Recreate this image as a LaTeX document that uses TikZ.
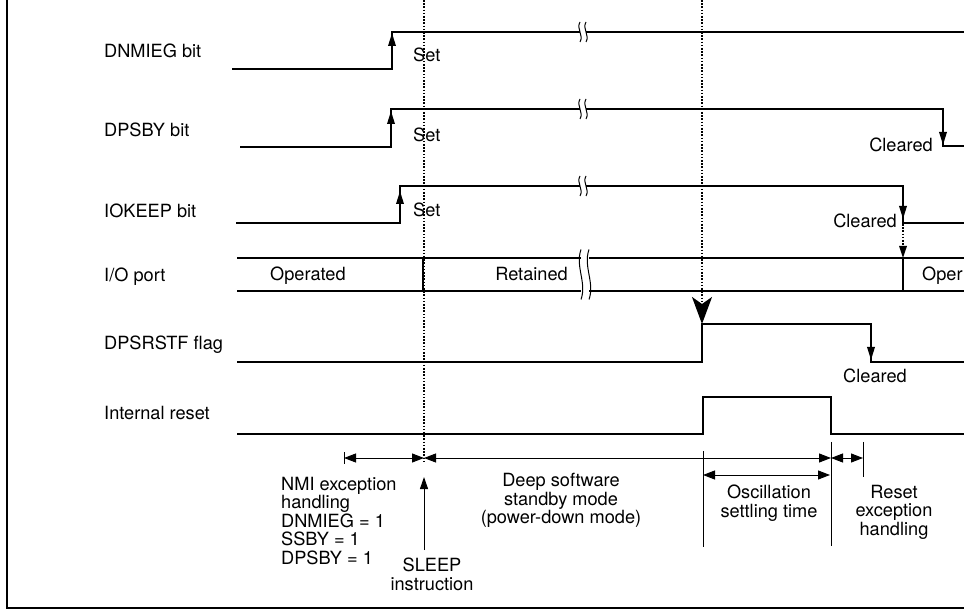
\documentclass[tikz,border=0pt]{standalone}
\usepackage{fontspec}
\setmainfont{TeX Gyre Heros}
\usetikzlibrary{arrows.meta}
\begin{document}
\begin{tikzpicture}[x=1pt,y=-1pt,
  sig/.style={line width=1.8pt, line join=miter},
  tip/.style={-{Triangle[length=13pt,width=7.5pt]}, line width=1.8pt},
  dim/.style={line width=1pt},
  dimarr/.style={{Triangle[length=12pt,width=9pt]}-{Triangle[length=12pt,width=9pt]}, line width=1pt},
  lbl/.style={font=\fontsize{18.2}{18.5}\selectfont, inner sep=0pt},
  dots/.style={line width=1.7pt, dash pattern=on 1.6pt off 1.6pt},
  brk/.pic={
    \fill[white] (-3,-5) rectangle (3,5);
    \draw[line width=1pt] (-3,-10) .. controls (-7,-3) and (1,3) .. (-3,10);
    \draw[line width=1pt] (3,-10) .. controls (-1,-3) and (7,3) .. (3,10);
  },
  bbrk/.pic={
    \fill[white] (-4,-18.5) rectangle (4,18.5);
    \draw[line width=1pt] (-4,-25) .. controls (-10,-8) and (2,8) .. (-4,25);
    \draw[line width=1pt] (4,-25) .. controls (-2,-8) and (10,8) .. (4,25);
  }
]
\useasboundingbox (0,0) rectangle (964,609);
\begin{scope}
\clip (0,0) rectangle (964,609);
% frame
\draw[line width=2pt] (7,-2) -- (7,608) -- (966,608);

% row labels
\node[lbl,anchor=base west] (l1) at (104,58) {DNMIEG bit};
\node[lbl,anchor=base west] (l2) at (104,137) {DPSBY bit};
\node[lbl,anchor=base west] (l3) at (104,218) {IOKEEP bit};
\node[lbl,anchor=base west] (l4) at (104,282) {I/O port};
\node[lbl,anchor=base west] (l5) at (104,350) {DPSRSTF flag};
\node[lbl,anchor=base west] (l6) at (104,420) {Internal reset};

% DNMIEG
\draw[sig] (232,69) -- (392,69) -- (392,32) -- (966,32);
\pic at (583,32) {brk};
\draw[tip] (392,60) -- (392,33);
\node[lbl,anchor=base west] (s1) at (413,62) {Set};

% DPSBY
\draw[sig] (240,147) -- (391,147) -- (391,109) -- (943,109) -- (943,146) -- (966,146);
\pic at (583,109) {brk};
\draw[tip] (391,140) -- (391,111);
\draw[tip] (943,115) -- (943,145);
\node[lbl,anchor=base west] (s2) at (413,142) {Set};
\node[lbl,anchor=base east] (c1) at (933,152) {Cleared};

% IOKEEP
\draw[sig] (236,223) -- (400,223) -- (400,186) -- (903,186) -- (903,223) -- (966,223);
\pic at (583,186) {brk};
\draw[tip] (400,215) -- (400,191);
\draw[tip] (903,192) -- (903,219);
\node[lbl,anchor=base west] (s3) at (413,217) {Set};
\node[lbl,anchor=base east] (c2) at (897,228) {Cleared};
\draw[dots,-{Triangle[length=12pt,width=7.5pt]}] (903,224) -- (903,258);

% I/O port
\draw[sig] (237,258) -- (966,258);
\draw[sig] (237,291) -- (966,291);
\draw[sig] (423,258) -- (423,291);
\draw[sig] (903,258) -- (903,291);
\pic at (585,274.5) {bbrk};
\node[lbl,anchor=base west] (o1) at (270,281) {Operated};
\node[lbl,anchor=base east] (r1) at (568,281) {Retained};
\node[lbl,anchor=base west] (o2) at (922,281) {Oper};

% DPSRSTF
\draw[sig] (237,362) -- (702,362) -- (702,324) -- (871,324) -- (871,362) -- (966,362);
\draw[tip] (871,330) -- (871,360);
\node[lbl,anchor=base] (c3) at (875,383) {Cleared};

% Internal reset
\draw[sig] (237,434) -- (703,434) -- (703,397) -- (831,397) -- (831,434) -- (966,434);

% dotted guide lines
\draw[dots] (424,0) -- (424,463);
\draw[dots,-{Stealth[length=27pt,width=20pt,inset=7pt]}] (702,0) -- (702,324);

% dimension lines
\draw[dim] (344,452) -- (344,464);
\draw[dimarr] (344,458) -- (424,458);
\draw[dimarr] (424,458) -- (831,458);
\draw[dimarr] (831,458) -- (863,458);
\draw[dim] (831,442) -- (831,546);
\draw[dim] (863,442) -- (863,477);
\draw[dim] (703,451) -- (703,547);
\draw[dimarr] (703,475) -- (830,475);
\draw[dim,-{Triangle[length=12pt,width=8pt]}] (424,550) -- (424,477);

% bottom texts
\node[lbl,anchor=north west,align=left] (nmi) at (281,477)
  {NMI exception\\handling\\DNMIEG = 1\\SSBY = 1\\DPSBY = 1};
\node[lbl,anchor=north,align=center] (slp) at (432,558) {SLEEP\\instruction};
\node[lbl,anchor=north,align=center] (dsm) at (561,473)
  {Deep software\\standby mode\\(power-down mode)};
\node[lbl,anchor=north,align=center] (osc) at (769,485) {Oscillation\\settling time};
\node[lbl,anchor=north,align=center] (rst) at (894,485) {Reset\\exception\\handling};
\end{scope}
\end{tikzpicture}
\end{document}
